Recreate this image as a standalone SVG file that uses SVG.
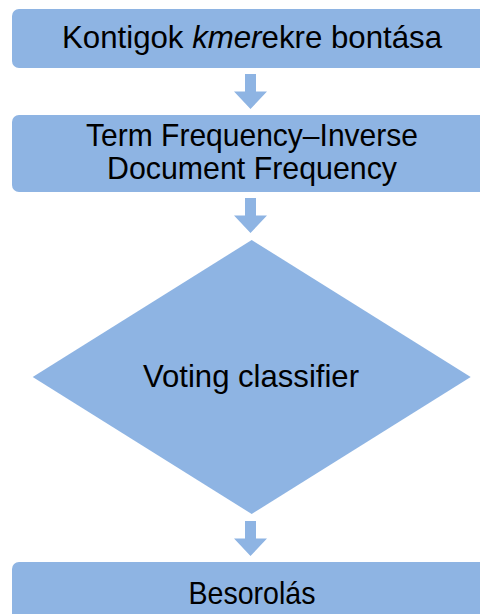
<svg xmlns="http://www.w3.org/2000/svg" width="480" height="614" viewBox="0 0 480 614">
  <style>
    .box { fill: #8eb4e3; }
    .lbl { font-family: "Liberation Sans", "DejaVu Sans", sans-serif; font-size: 32px; fill: #000; text-anchor: middle; }
    .arrow { fill: #8eb4e3; }
  </style>
  <defs>
    <!-- block arrow pointing down, origin at shaft top centre -->
    <path id="blockArrow" class="arrow" d="M -5.5 0 H 5.5 V 17.5 H 16.5 L 0 35 L -16.5 17.5 H -5.5 Z"/>
  </defs>

  <rect width="480" height="614" fill="#fff"/>

  <g id="split">
    <rect class="box" x="12" y="9" width="480" height="59" rx="7"/>
    <text class="lbl" x="252" y="48" textLength="380" lengthAdjust="spacingAndGlyphs">Kontigok <tspan font-style="italic">kmer</tspan>ekre bontása</text>
  </g>

  <g id="tfidf">
    <rect class="box" x="12" y="115" width="480" height="77" rx="7"/>
    <text class="lbl" x="252" y="146" textLength="332" lengthAdjust="spacingAndGlyphs">Term Frequency–Inverse</text>
    <text class="lbl" x="252" y="179" textLength="290" lengthAdjust="spacingAndGlyphs">Document Frequency</text>
  </g>

  <g id="voting">
    <polygon class="box" points="251.7,240 470.7,377 251.7,514 32.7,377"/>
    <text class="lbl" x="251" y="387" textLength="216" lengthAdjust="spacingAndGlyphs">Voting classifier</text>
  </g>

  <g id="classify">
    <rect class="box" x="12" y="562" width="480" height="70" rx="7"/>
    <text class="lbl" x="252" y="604" textLength="127" lengthAdjust="spacingAndGlyphs">Besorolás</text>
  </g>

  <g id="connectors">
    <use href="#blockArrow" x="250.5" y="74"/>
    <use href="#blockArrow" x="250.5" y="198"/>
    <use href="#blockArrow" x="250.5" y="521"/>
  </g>
</svg>
